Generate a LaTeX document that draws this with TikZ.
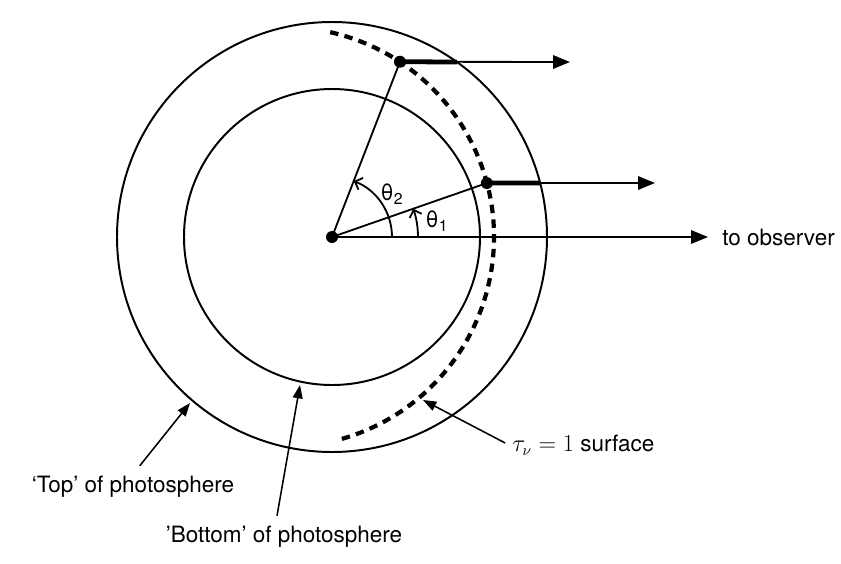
\documentclass[tikz,border=0pt]{standalone}
\usepackage{fontspec}
\setmainfont{TeX Gyre Heros}
\usetikzlibrary{arrows.meta}

\tikzset{
  shell/.style={line width=1.4pt},
  ray/.style={line width=1.3pt},
  bigarrow/.style={line width=1.3pt,-{Triangle[length=12pt,width=9.5pt]}},
  notearrow/.style={line width=1.1pt,-{Triangle[length=9.5pt,width=7pt]}},
  anglearrow/.style={line width=1.3pt,-{Straight Barb[length=4.5pt,width=9pt]}},
  thickseg/.style={line width=3.4pt},
  tausurf/.style={line width=3pt,dash pattern=on 6pt off 4.5pt},
  dot/.style={circle,fill,inner sep=0pt,minimum size=0.3cm},
  lab/.style={font=\fontsize{16}{19}\selectfont}
}

\begin{document}
\begin{tikzpicture}
  \useasboundingbox (-8.3,-8.15) rectangle (12.725,5.925);
  % top and bottom of the photosphere
  \draw[shell] (0,0) circle (5.375);
  \draw[shell] (0,0) circle (3.7);
  % tau = 1 surface
  \draw[tausurf] (-1.2,0) ++(77.3:5.25) arc[start angle=77.3,end angle=-74.6,radius=5.25];
  \node[dot] (C) at (0,0) {};
  \node[dot] (P2) at (68.8:4.7) {};
  \node[dot] (P1) at (19.2:4.1) {};
  \coordinate (E2) at (3.12,4.375);
  \coordinate (E1) at (5.2,1.35);
  \coordinate (T2) at (5.95,4.375);
  \coordinate (T1) at (8.075,1.35);
  \draw[ray] (C.center) -- (P2.center);
  \draw[ray] (C.center) -- (P1.center);
  \draw[thickseg] (P2.center) -- (E2);
  \draw[thickseg] (P1.center) -- (E1);
  \draw[bigarrow] (P2.center) -- (T2);
  \draw[bigarrow] (P1.center) -- (T1);
  \node[lab,anchor=west,inner sep=0pt] (obs) at (9.75,0) {to observer};
  \draw[bigarrow] (C.center) -- ([xshift=-0.35cm]obs.west);
  % angles
  \draw[anglearrow] (1.5,0) arc[start angle=0,end angle=68.8,radius=1.5];
  \draw[anglearrow] (2.15,0) arc[start angle=0,end angle=19.2,radius=2.15];
  \node[lab] (th2) at (1.5,1.075) {θ\textsubscript{2}};
  \node[lab] (th1) at (2.625,0.4) {θ\textsubscript{1}};
  % labels
  \node[lab,anchor=west,inner sep=0pt] (tau) at (4.5,-5.2) {$\tau_\nu = 1$ surface};
  \coordinate (taupt) at (2.275,-4.075);
  \draw[notearrow] ([xshift=-0.17cm,yshift=0.05cm]tau.west) -- (taupt);
  \node[lab] (toplab) at (-4.975,-6.25) {`Top' of photosphere};
  \coordinate (toptip) at (-3.55,-4.15);
  \draw[notearrow] ([xshift=0.17cm,yshift=0.14cm]toplab.north) -- (toptip);
  \node[lab] (botlab) at (-1.2,-7.5) {'Bottom' of photosphere};
  \coordinate (bottip) at (-0.8,-3.7);
  \draw[notearrow] ([xshift=-0.175cm,yshift=0.14cm]botlab.north) -- (bottip);
\end{tikzpicture}
\end{document}
